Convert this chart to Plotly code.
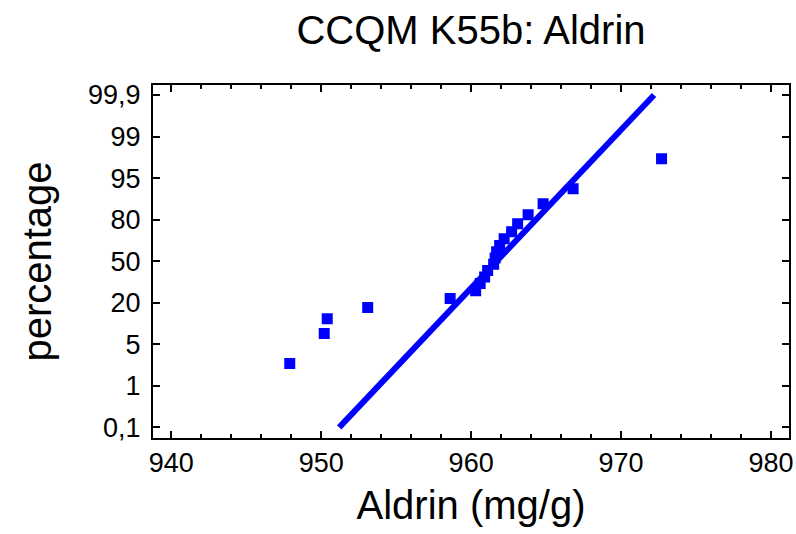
import numpy as np
import plotly.graph_objects as go
from statistics import NormalDist

# Data
aldrin = [947.9, 950.2, 950.4, 953.1, 958.6, 960.3, 960.6, 960.9, 961.1, 961.5,
          961.6, 961.7, 961.9, 962.2, 962.7, 963.1, 963.8, 964.8, 966.8, 972.7]
percent = [2.5, 7.5, 12.5, 17.5, 22.5, 27.5, 32.5, 37.5, 42.5, 47.5,
           52.5, 57.5, 62.5, 67.5, 72.5, 77.5, 82.5, 87.5, 92.5, 97.5]
line_x = [951.2, 972.2]
line_pct = [0.1, 99.9]
tick_pct = [0.1, 1, 5, 20, 50, 80, 95, 99, 99.9]
tick_text = ["0,1", "1", "5", "20", "50", "80", "95", "99", "99,9"]

nd = NormalDist()
tick_z = [nd.inv_cdf(p / 100) for p in tick_pct]
tick_idx = list(range(len(tick_pct)))


def to_pos(pcts):
    z = [nd.inv_cdf(p / 100) for p in pcts]
    return np.interp(z, tick_z, tick_idx)


blue = "#0000FF"
fig = go.Figure()
fig.add_trace(go.Scatter(x=line_x, y=to_pos(line_pct), mode="lines",
                         line=dict(color=blue, width=6), showlegend=False))
fig.add_trace(go.Scatter(x=aldrin, y=to_pos(percent), mode="markers",
                         marker=dict(symbol="square", size=9, color=blue,
                                     line=dict(color=blue, width=2)),
                         showlegend=False))

font = "Liberation Sans, Arial, sans-serif"
fig.update_layout(
    width=796, height=534,
    margin=dict(l=153, r=7, t=85, b=96),
    paper_bgcolor="white", plot_bgcolor="white",
    font=dict(family=font, color="black"),
    title=dict(text="CCQM K55b: Aldrin", x=0.5, xref="paper", xanchor="center",
               y=0.944, yanchor="middle", font=dict(size=40)),
    xaxis=dict(range=[938.78, 981.2], tickvals=[940, 950, 960, 970, 980],
               ticks="inside", ticklen=7, tickwidth=1.5, tickcolor="black",
               minor=dict(dtick=2, tick0=940, ticks="inside", ticklen=4,
                          tickwidth=1.5, tickcolor="black"),
               showline=True, linewidth=2, linecolor="black", mirror="ticks",
               showgrid=False, zeroline=False, tickfont=dict(size=27),
               automargin=False, ticklabeloverflow="allow",
               title=dict(text="Aldrin (mg/g)", font=dict(size=40), standoff=14)),
    yaxis=dict(range=[-0.257, 8.24], tickvals=tick_idx, ticktext=tick_text,
               ticks="inside", ticklen=7, tickwidth=1.5, tickcolor="black",
               showline=True, linewidth=2, linecolor="black", mirror="ticks",
               showgrid=False, zeroline=False, tickfont=dict(size=27),
               ticklabelstandoff=5, automargin=False,
               title=dict(text="percentage", font=dict(size=40), standoff=24)),
)

fig.write_html("out.html",
               config={"displayModeBar": False},
               post_script="document.body.style.margin='0';"
                           "document.body.style.overflow='hidden';")
